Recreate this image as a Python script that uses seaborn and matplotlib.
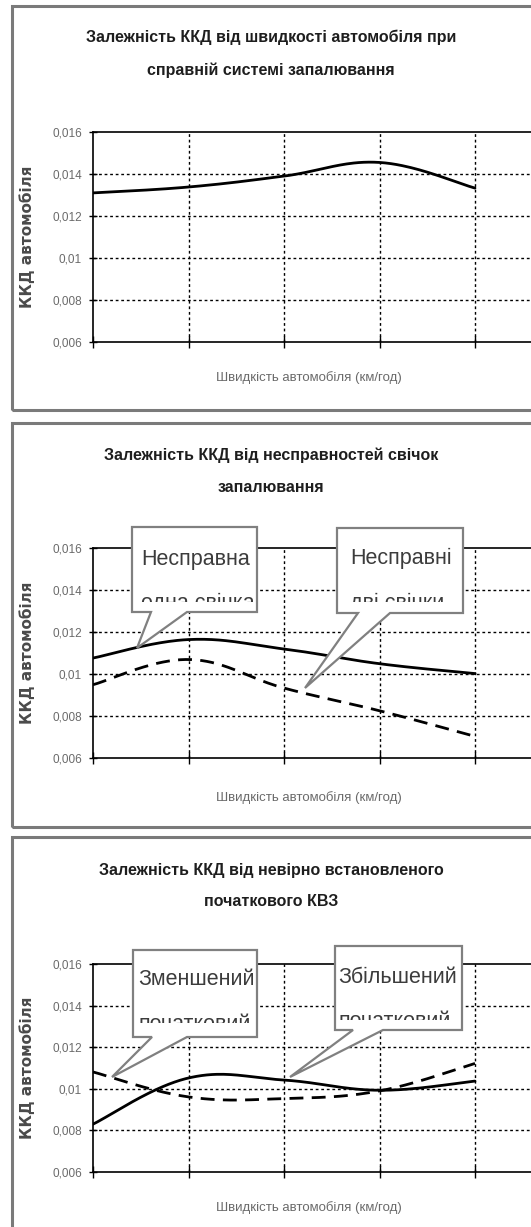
import numpy as np
import pandas as pd
import matplotlib
matplotlib.use("Agg")
import matplotlib.pyplot as plt
import seaborn as sns
from matplotlib.patches import Rectangle, Polygon
from matplotlib.transforms import Affine2D, Bbox, TransformedBbox

# ---- data ---------------------------------------------------------------
categories = [0, 1, 2, 3, 4]
yticks = [0.006, 0.008, 0.010, 0.012, 0.014, 0.016]
ytick_labels = ["0,006", "0,008", "0,01", "0,012", "0,014", "0,016"]

eff_ok = [0.0131, 0.01338, 0.0139, 0.01455, 0.01333]
eff_one_plug = [0.01076, 0.01164, 0.01119, 0.01049, 0.01002]
eff_two_plugs = [0.00949, 0.01069, 0.00933, 0.00825, 0.00703]
eff_high_advance = [0.0083, 0.01052, 0.01042, 0.00993, 0.01037]
eff_low_advance = [0.01081, 0.00961, 0.00953, 0.0099, 0.01122]

titles = [
    ("Залежність ККД від швидкості автомобіля при", "справній системі запалювання"),
    ("Залежність ККД від несправностей свічок", "запалювання"),
    ("Залежність ККД від невірно встановленого", "початкового КВЗ"),
]
ylabel = "ККД автомобіля"
xlabel = "Швидкість автомобіля (км/год)"

# ---- style --------------------------------------------------------------
sns.set_theme(style="white")
plt.rcParams["font.family"] = ["Liberation Sans", "DejaVu Sans"]

W, H = 531, 1227
fig = plt.figure(figsize=(W / 100, H / 100), dpi=100)
fig.patch.set_facecolor("white")
# pixel coordinates measured from the top-left corner of the figure
px = Affine2D().scale(1 / W, -1 / H).translate(0, 1) + fig.transFigure

AX_LEFT = 93
STEP = 95.5


def smooth_curve(xs, ys, f=0.19, n=40):
    """Cubic Bezier smoothing through the points (smoothed-line rendering)."""
    xs = np.asarray(xs, float)
    ys = np.asarray(ys, float)
    ex, ey = np.r_[xs[0], xs, xs[-1]], np.r_[ys[0], ys, ys[-1]]
    out_x, out_y = [], []
    t = np.linspace(0, 1, n)[:, None]
    for i in range(1, len(xs)):
        p0 = np.array([ex[i], ey[i]])
        p3 = np.array([ex[i + 1], ey[i + 1]])
        p1 = p0 + f * np.array([ex[i + 1] - ex[i - 1], ey[i + 1] - ey[i - 1]])
        p2 = p3 - f * np.array([ex[i + 2] - ex[i], ey[i + 2] - ey[i]])
        b = (1 - t) ** 3 * p0 + 3 * (1 - t) ** 2 * t * p1 + 3 * (1 - t) * t ** 2 * p2 + t ** 3 * p3
        if i > 1:
            b = b[1:]
        out_x.append(b[:, 0])
        out_y.append(b[:, 1])
    return np.concatenate(out_x), np.concatenate(out_y)


def panel_frame(top, bottom):
    fig.add_artist(Rectangle((12, bottom), 560, top - bottom, transform=px,
                             fill=False, edgecolor="#7a7a7a", linewidth=2.2))


def setup_axes(top, bottom):
    width = STEP * 5
    ax = fig.add_axes([AX_LEFT / W, 1 - bottom / H, width / W, (bottom - top) / H])
    ax.set_xlim(0, 5)
    ax.set_ylim(0.006, 0.016)
    ax.set_yticks(yticks)
    ax.set_yticklabels(ytick_labels)
    ax.set_xticks([0, 1, 2, 3, 4, 5])
    ax.set_xticklabels([])
    ax.tick_params(axis="y", direction="inout", length=6, width=1, color="black",
                   labelsize=8.5, labelcolor="#6a6a6a", pad=5, left=True)
    ax.tick_params(axis="x", direction="inout", length=9, width=1, color="black",
                   bottom=True)
    for s in ["left", "bottom", "top", "right"]:
        ax.spines[s].set_color("black")
        ax.spines[s].set_linewidth(1.2)
    for y in yticks[1:-1]:
        ax.axhline(y, color="black", linewidth=1, linestyle=(0, (2, 2)), zorder=1)
    for x in [1, 2, 3, 4]:
        ax.axvline(x, color="black", linewidth=1, linestyle=(0, (2, 2)), zorder=1)
    return ax


def draw_series(ax, values, dashed=False):
    sx, sy = smooth_curve(categories, values)
    df = pd.DataFrame({"x": sx, "y": sy})
    sns.lineplot(data=df, x="x", y="y", ax=ax, color="black", linewidth=2,
                 sort=False, estimator=None, zorder=3,
                 linestyle=(0, (5, 3)) if dashed else "-")


def label_axes(ax, top, bottom, xlab_y):
    h = bottom - top
    ax.set_ylabel(ylabel, fontsize=11, fontweight="bold", color="#4a4a4a",
                  family=["DejaVu Sans"])
    ax.yaxis.set_label_coords((35 - AX_LEFT) / (STEP * 5), 0.5)
    ax.set_xlabel(xlabel, fontsize=9.5, color="#6a6a6a")
    ax.xaxis.set_label_coords((309 - AX_LEFT) / (STEP * 5), -(xlab_y - bottom) / h)
    ax.xaxis.label.set_va("center")


def callout(box, base, tip, line1, line2, base1, base2, clip_y, tx):
    x0, y0, x1, y1 = box
    verts = [(x0, y0), (x1, y0), (x1, y1), (base[1], y1), tip, (base[0], y1), (x0, y1)]
    fig.add_artist(Polygon(verts, closed=True, transform=px, facecolor="white",
                           edgecolor="#808080", linewidth=1.6, zorder=10))
    clip = TransformedBbox(Bbox.from_extents((x0 + 2) / W, 1 - clip_y / H,
                                             (x1 - 2) / W, 1 - (y0 + 2) / H),
                           fig.transFigure)
    for txt, yb in [(line1, base1), (line2, base2)]:
        t = fig.text(tx, yb, txt, transform=px, fontsize=15.5, color="#3c3c3c",
                     ha="left", va="baseline", zorder=11)
        t.set_clip_box(clip)
        t.set_clip_on(True)


# ---- panels -------------------------------------------------------------
panel_frame(6, 410)
ax1 = setup_axes(132, 342)
draw_series(ax1, eff_ok)
label_axes(ax1, 132, 342, 378)

panel_frame(423, 827)
ax2 = setup_axes(548, 758)
draw_series(ax2, eff_one_plug)
draw_series(ax2, eff_two_plugs, dashed=True)
label_axes(ax2, 548, 758, 798)

panel_frame(837, 1240)
ax3 = setup_axes(964, 1172)
draw_series(ax3, eff_high_advance)
draw_series(ax3, eff_low_advance, dashed=True)
label_axes(ax3, 964, 1172, 1208)

# titles
for (l1, l2), (y1_, y2_) in zip(titles, [(37, 70), (455, 487), (870, 902)]):
    for txt, yy in [(l1, y1_), (l2, y2_)]:
        fig.text(271, yy, txt, transform=px, ha="center", va="center",
                 fontsize=11.5, fontweight="bold", color="#1e1e1e")

# callouts
callout((132, 527, 257, 612), (151, 187), (137, 648),
        "Несправна", "одна свічка", 565, 609, 602, 141)
callout((337, 528, 463, 613), (358, 390), (305, 688),
        "Несправні", "дві свічки", 564, 609, 602, 350)
callout((133, 950, 257, 1037), (152, 187), (112, 1077),
        "Зменшений", "початковий", 985, 1030, 1023, 138)
callout((335, 946, 462, 1030), (353, 383), (290, 1077),
        "Збільшений", "початковий", 983, 1027, 1020, 338)

fig.savefig("out.png", dpi=100)
